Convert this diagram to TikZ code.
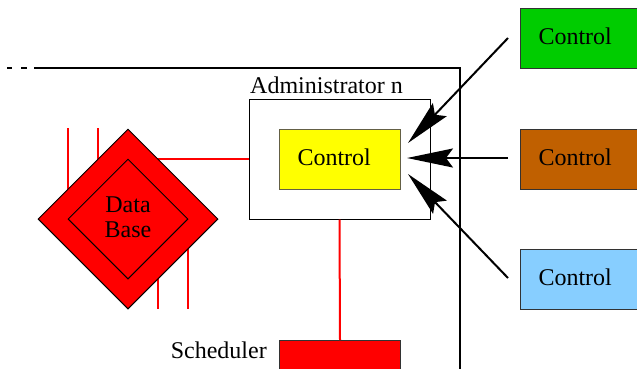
\documentclass[tikz,border=0pt]{standalone}
\usepackage{fontspec}
\setmainfont{Liberation Serif}
\usetikzlibrary{shapes.geometric,arrows.meta}
\definecolor{ctlgreen}{HTML}{00CC00}
\definecolor{ctlorange}{HTML}{C06000}
\definecolor{ctlblue}{HTML}{87CEFF}
\definecolor{ctlyellow}{HTML}{FFFF00}
\definecolor{dbred}{HTML}{FF0000}
\begin{document}
\begin{tikzpicture}[x=1pt,y=-1pt,
  font=\fontsize{24}{25}\selectfont,
  frame/.style={line width=2pt},
  redline/.style={draw=dbred,line width=2pt},
  plainbox/.style={draw=black,line width=1pt,inner sep=0pt},
  ctlbox/.style={draw=black!80,line width=1pt,anchor=north west,
    minimum height=60pt,text width=104pt,inner xsep=18pt,inner ysep=0pt,
    text height=16pt,text depth=4pt,align=left},
  feed/.style={line width=2pt,-{Stealth[length=46pt,width=19pt,inset=7pt]}},
  dbshape/.style={diamond,draw=black,line width=1pt,fill=dbred,inner sep=0pt,aspect=1}]
\useasboundingbox (0,0) rectangle (637,368);

% outer frame of the site
\draw[frame] (7,68) -- (12,68);
\draw[frame] (21,68) -- (27,68);
\draw[frame] (34,68) -- (460,68) -- (460,370);

% administrator and its control unit
\node[plainbox,minimum width=181pt,minimum height=120pt] (admin) at (339.5,159) {};
\node[anchor=base west,inner sep=0pt] (adminlbl) at (250,93) {Administrator n};
\node[ctlbox,draw=black!70!yellow,fill=ctlyellow,text width=85pt] (ctl) at (279,129) {Control};

% database links (behind the diamond)
\coordinate (dbc) at (128,219);
\draw[redline] (68,128) -- (68,219);
\draw[redline] (98,128) -- (98,219);
\draw[redline] (158,219) -- (158,309);
\draw[redline] (188,219) -- (188,309);
\draw[redline] (dbc |- admin.west) -- (admin.west);

% database
\node[dbshape,minimum width=180pt,minimum height=180pt] (dbout) at (dbc) {};
\node[dbshape,minimum width=120pt,minimum height=120pt] (dbin) at (dbc) {};
\node[anchor=base,inner sep=0pt] (dbtop) at (128,212) {Data};
\node[anchor=base,inner sep=0pt] (dbbot) at (128,237) {Base};

% scheduler
\node[draw=black!80,line width=1pt,fill=dbred,anchor=north west,minimum width=121pt,minimum height=45pt,inner sep=0pt] (sched) at (279,340) {};
\node[anchor=base east,inner sep=0pt] (schedlbl) at (267,358) {Scheduler};
\draw[redline] (admin.south) -- (sched.north);

% external controls
\node[ctlbox,fill=ctlgreen] (c1) at (520,8) {Control};
\node[ctlbox,fill=ctlorange] (c2) at (520,129) {Control};
\node[ctlbox,fill=ctlblue] (c3) at (520,249) {Control};

\coordinate (s1) at (508,38);
\coordinate (s2) at (508,158);
\coordinate (s3) at (508,278);
\coordinate (t1) at (408,143);
\coordinate (t2) at (407,158);
\coordinate (t3) at (408,174);
\draw[feed] (s1) -- (t1);
\draw[feed] (s2) -- (t2);
\draw[feed] (s3) -- (t3);
\end{tikzpicture}
\end{document}
